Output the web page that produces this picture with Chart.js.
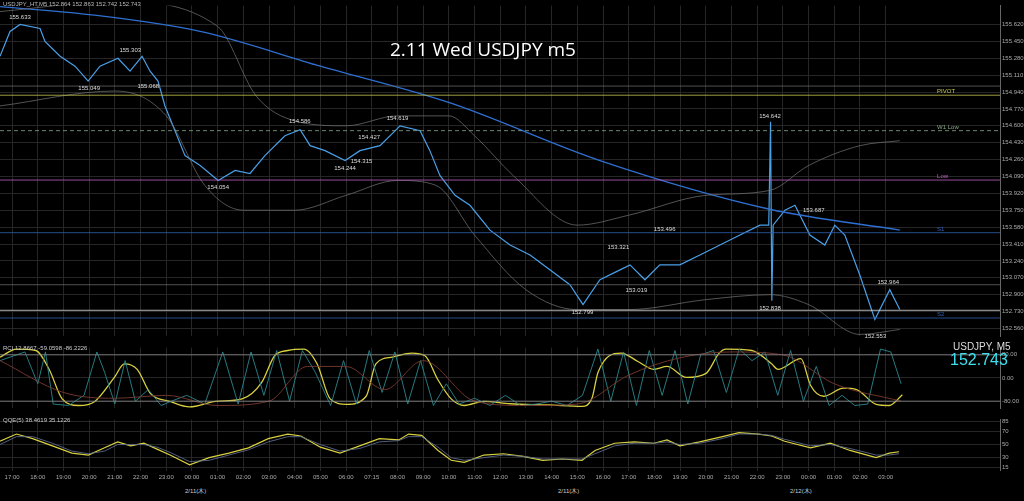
<!DOCTYPE html><html><head><meta charset="utf-8">
<script src="https://cdn.jsdelivr.net/npm/chart.js@4"></script>
<style>
body{margin:0;background:#000;width:1024px;height:501px;overflow:hidden;font-family:"Liberation Sans",sans-serif}
.p{position:absolute;left:0;width:1024px}
.t{position:absolute;color:#ccc;font-size:6px;white-space:nowrap}
</style></head><body>
<div class="p" style="top:0;height:342px"><canvas id="c1"></canvas></div>
<div class="p" style="top:342px;height:72px"><canvas id="c2"></canvas></div>
<div class="p" style="top:414px;height:70px"><canvas id="c3"></canvas></div>
<div class="t" style="left:3px;top:1px;color:#bbb">USDJPY_HT,M5  152.864 152.863 152.742 152.743</div>
<div class="t" style="left:3px;top:345px">RCI 12.8667 -59.0598 -86.2226</div>
<div class="t" style="left:3px;top:417px">QQE(5) 38.4619 35.1226</div>
<div style="position:absolute;left:390px;top:36px;color:#fff;font-size:19px;font-family:'Open Sans'">2.11 Wed USDJPY m5</div>
<div style="position:absolute;left:953px;top:341px;color:#ddd;font-size:10px">USDJPY, M5</div>
<div style="position:absolute;left:950px;top:351px;color:#3ee0f0;font-size:16px">152.743</div>
<div class="t" style="left:185px;top:487px">2/11(木)</div>
<div class="t" style="left:558px;top:487px">2/11(木)</div>
<div class="t" style="left:790px;top:487px">2/12(木)</div>
<script>
const priceX=[-0.47,-0.08,0.31,1.09,1.28,1.87,2.45,2.96,3.42,4.12,4.59,5.06,5.37,5.68,5.95,6.34,6.73,7.32,8.02,8.68,9.26,9.84,10.62,11.21,11.6,12.18,12.96,13.54,14.32,15.1,15.88,16.26,16.65,17.24,17.82,18.6,19.38,20.16,20.93,21.71,22.22,22.88,23.66,24.05,24.63,25.21,25.99,26.77,27.55,28.33,29.11,29.45,29.52,29.57,29.62,30.08,30.47,31.05,31.63,32.02,32.41,32.99,33.58,34.16,34.55];
const priceY=[155.3,155.55,155.62,155.58,155.45,155.3,155.2,155.05,155.2,155.28,155.15,155.3,155.15,155.05,154.8,154.55,154.3,154.2,154.05,154.15,154.12,154.3,154.5,154.56,154.4,154.35,154.25,154.35,154.4,154.6,154.55,154.35,154.1,153.9,153.8,153.55,153.4,153.3,153.15,153.0,152.8,153.05,153.15,153.2,153.05,153.2,153.2,153.3,153.4,153.5,153.6,153.6,154.64,152.84,153.6,153.75,153.8,153.5,153.4,153.6,153.5,153.1,152.65,152.95,152.75];
const maX=[-0.47,3.0,7.32,12.0,17.05,22.88,29.49,34.55];
const maY=[155.8,155.72,155.55,155.2,154.83,154.25,153.76,153.55];
const bandUX=[-0.47,4,8,9.5,11,13,15,17,18,19.5,22,24,27,29.5,31,33,34.55];
const bandUY=[155.75,155.85,155.6,154.9,154.65,154.6,154.7,154.7,154.5,154.1,153.6,153.7,153.9,153.95,154.2,154.4,154.45];
const bandLX=[-0.47,4,6,7.5,9,11,13,15,16.5,18,20,22,24,27,29.5,31,33,34.55];
const bandLY=[154.8,154.95,154.7,154.0,153.75,153.75,153.9,154.05,154.0,153.5,152.95,152.75,152.75,152.85,152.9,152.8,152.5,152.55];
const levelNames=["PIVOT","","W1 Low","Low","S1","","","S2"];
const levelY=[154.908,155.0,154.551,154.054,153.524,153.0,152.743,152.665];
const levelColors=["#c8c850","#666","#8a8","#c060c0","#3060b0","#666","#ddd","#3060b0"];
const peakX=[0.31,3.0,4.6,5.3,8.02,11.2,12.96,13.9,13.6,15.0,22.2,23.6,24.3,25.4,29.5,29.5,31.2,33.6,34.1];
const peakY=[155.633,155.049,155.303,155.068,154.054,154.586,154.244,154.427,154.315,154.619,152.799,153.321,153.019,153.496,154.642,152.838,153.687,152.553,152.964];
const peakUp=[1,0,1,0,0,1,0,1,0,1,0,1,0,1,1,0,1,0,1];
const priceTicks=[155.62,155.45,155.28,155.11,154.94,154.77,154.6,154.43,154.26,154.09,153.92,153.75,153.58,153.41,153.24,153.07,152.9,152.73,152.56];
const rciYX=[-0.47,0.17,0.93,1.44,1.95,2.59,3.22,3.98,4.37,4.87,5.38,6.15,6.91,7.93,8.95,9.71,10.22,10.73,11.36,11.87,12.38,13.02,13.78,14.16,14.8,15.56,16.07,16.58,17.09,17.6,18.36,19.38,20.9,22.18,22.56,22.81,23.71,24.34,24.98,25.49,26.25,27.01,27.52,27.78,28.79,29.56,29.81,30.7,31.08,31.59,32.36,32.87,33.63,34.14,34.65];
const rciYV=[72,100,95,30,-72,-95,-81,2,49,30,-53,-81,-100,-81,-72,-16,77,95,100,49,-72,-91,-63,49,72,86,77,-7,-72,-95,-81,-89,-93,-98,-72,21,86,58,30,40,2,16,86,100,95,49,30,67,-26,-63,-35,-40,-91,-95,-58];
const rciTX=[-0.47,0.5,1.0,1.3,1.6,2.2,2.8,3.3,3.6,4.0,4.4,4.8,5.3,5.8,6.2,6.8,7.5,8.2,8.8,9.3,9.8,10.3,10.8,11.3,11.8,12.4,12.9,13.4,13.9,14.4,14.9,15.4,15.9,16.4,16.9,17.4,18.0,18.6,19.2,19.8,20.4,21.0,21.6,22.2,22.8,23.3,23.8,24.3,24.8,25.3,25.8,26.3,26.8,27.3,27.8,28.3,28.8,29.3,29.8,30.3,30.8,31.3,31.8,32.3,32.8,33.3,33.8,34.2,34.6];
const rciTV=[60,90,-20,90,-90,-95,-60,90,20,-90,60,-80,-40,-95,-80,-60,-90,90,-90,90,-60,95,-80,95,20,-95,60,-90,95,-50,90,-90,60,-95,-20,-90,-70,-95,-60,-95,-90,-80,-95,-60,100,-80,90,-95,95,-60,95,-90,80,95,-50,100,60,90,-60,95,-80,40,-95,-60,-95,-90,100,90,-20];
const rciBX=[-0.47,2.0,4.0,6.0,8.0,10.0,11.5,13.0,14.5,16.0,18.0,20.0,22.0,24.0,26.0,28.0,30.0,32.0,34.6];
const rciBV=[60,-50,-70,-60,-95,-80,40,40,-40,60,-80,-95,-90,10,70,90,80,-20,-80];
const qqeX=[-0.47,0.17,0.8,1.57,2.33,2.97,3.6,4.11,4.62,5.13,5.64,6.15,6.91,7.67,8.44,9.2,9.97,10.73,11.24,12.0,12.76,13.53,14.29,15.05,15.43,15.94,16.58,17.09,17.6,18.36,19.13,19.89,20.65,21.41,22.18,22.69,23.45,24.21,24.98,25.49,25.99,26.76,27.52,28.29,29.05,29.56,30.07,31.08,31.85,32.61,33.63,34.14,34.52];
const qqeV=[55,66,59,48,37,34,45,54,48,52,43,34,19,30,37,45,59,66,63,46,37,48,59,57,66,64,41,26,23,34,36,32,26,28,26,41,52,54,52,57,48,54,61,68,66,63,55,45,52,41,30,37,39];
const qqeSV=[50,62,62,52,40,36,40,50,50,50,46,38,24,26,34,42,54,62,62,50,40,44,54,56,62,62,46,30,26,30,34,32,28,28,28,36,48,52,52,54,50,52,58,66,66,64,58,48,50,44,34,34,36];
const hourLabel=h=>h===14?"07:15":String((17+h)%24).padStart(2,"0")+":00";
const X0=-0.47,X1=38.45;
const pts=(xs,ys)=>xs.map((x,i)=>({x,y:ys[i]}));
const grid='#262626';
function xScale(show){return{type:'linear',min:X0,max:X1,grid:{color:grid,drawTicks:false},border:{display:false},
 afterBuildTicks:s=>{s.ticks=[];for(let h=0;h<=34;h++)s.ticks.push({value:h});},
 ticks:{display:show,color:'#aaa',font:{size:6},padding:3,maxRotation:0,autoSkip:false,callback:v=>hourLabel(v)}};}
function yScale(min,max,ticks,fmt){return{position:'right',min,max,grid:{color:grid,drawTicks:false},border:{color:'#666'},
 afterFit:s=>{s.width=24;},afterBuildTicks:s=>{s.ticks=ticks.map(v=>({value:v}));},
 ticks:{color:'#aaa',font:{size:6},padding:2,callback:fmt}};}
const line=(data,color,w,extra)=>Object.assign({data,borderColor:color,borderWidth:w,pointRadius:0,tension:0,fill:false},extra||{});
Chart.defaults.animation=false;
Chart.defaults.plugins.legend.display=false;
Chart.defaults.plugins.tooltip.enabled=false;
const labelPlugin={id:'lbl',afterDatasetsDraw(c){const{ctx,scales:{x,y}}=c;ctx.save();ctx.font='6px Liberation Sans';ctx.fillStyle='#ddd';ctx.textAlign='center';
 peakX.forEach((px,i)=>{ctx.fillText(peakY[i].toFixed(3),x.getPixelForValue(px),y.getPixelForValue(peakY[i])+(peakUp[i]?-4:9));});
 ctx.textAlign='left';levelNames.forEach((n,i)=>{if(n){ctx.fillStyle=levelColors[i];ctx.fillText(n,x.getPixelForValue(36),y.getPixelForValue(levelY[i])-2);}});
 ctx.restore();}};
const lvl=levelY.map((v,i)=>line([{x:X0,y:v},{x:X1,y:v}],levelColors[i],0.8,i===2?{borderDash:[4,3]}:{}));
new Chart(c1,{type:'line',data:{datasets:[...lvl,
 line(pts(bandUX,bandUY),'#777',0.7,{cubicInterpolationMode:'monotone'}),line(pts(bandLX,bandLY),'#777',0.7,{cubicInterpolationMode:'monotone'}),
 line(pts(maX,maY),'#2f6fd0',1.3,{cubicInterpolationMode:'monotone'}),line(pts(priceX,priceY),'#4aa0e8',1.2)]},
 options:{responsive:true,maintainAspectRatio:false,layout:{padding:0},scales:{x:xScale(false),y:yScale(152.48,155.81,priceTicks,v=>v.toFixed(3))}},plugins:[labelPlugin]});
new Chart(c2,{type:'line',data:{datasets:[line([{x:X0,y:80},{x:X1,y:80}],'#888',0.8),line([{x:X0,y:-80},{x:X1,y:-80}],'#888',0.8),
 line(pts(rciBX,rciBV),'#7a3a30',0.9,{cubicInterpolationMode:'monotone'}),line(pts(rciTX,rciTV),'#2a8890',0.9),line(pts(rciYX,rciYV),'#d8d040',1.3,{cubicInterpolationMode:'monotone'})]},
 options:{responsive:true,maintainAspectRatio:false,scales:{x:xScale(false),y:yScale(-105,105,[80,0,-80],v=>v.toFixed(2))}}});
new Chart(c3,{type:'line',data:{datasets:[line(pts(qqeX,qqeSV),'#5a6a8a',0.9),line(pts(qqeX,qqeV),'#d8d040',1.2)]},
 options:{responsive:true,maintainAspectRatio:false,scales:{x:xScale(true),y:yScale(10,88,[85,70,50,30,15],v=>v)}}});
</script></body></html>
